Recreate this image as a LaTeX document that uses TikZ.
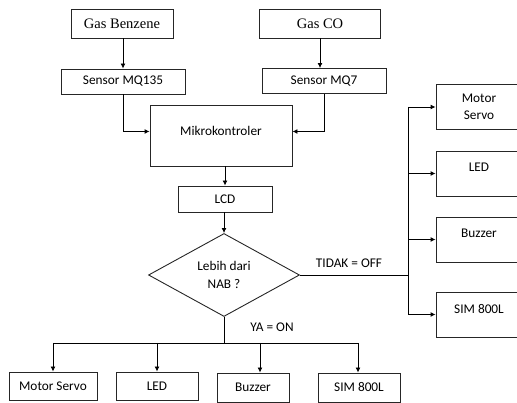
\documentclass[tikz,border=0pt]{standalone}
\usepackage{fontspec}
\setmainfont{Carlito}
\newfontfamily\gasfont{Liberation Serif}
\usetikzlibrary{arrows.meta,positioning,calc,shapes.geometric}

\begin{document}
\begin{tikzpicture}[
  x=1pt,y=-1pt,
  font=\fontsize{13.3}{17.5}\selectfont,
  line width=0.9pt,
  box/.style={draw=black!85,fill=white,align=center,inner sep=2pt},
  gasbox/.style={box,font=\gasfont\fontsize{14.5}{17}\selectfont,minimum height=29pt},
  sensbox/.style={box,minimum width=124pt,minimum height=25pt},
  outbox/.style={box,minimum height=28pt},
  sidebox/.style={box,minimum width=86pt,minimum height=45pt},
  raised/.style={text depth=12pt},
  decision/.style={draw=black!85,diamond,aspect=1.8,align=center,minimum width=151pt,minimum height=83pt,inner sep=1pt},
  flow/.style={-{Latex[length=5pt,width=5pt]}},
  lab/.style={inner sep=1pt}
]
\useasboundingbox (0,0) rectangle (517,403);
\node[gasbox,minimum width=102pt] (benz) at (122,23.5) {Gas Benzene};
\node[gasbox,minimum width=121pt] (co) at (320,23.5) {Gas CO};
\node[sensbox] (mq135) at (123,81.5) {Sensor MQ135};
\node[sensbox] (mq7) at (324,81) {Sensor MQ7};
\node[box,minimum width=142pt,minimum height=61pt,text depth=9pt] (mcu) at (221,135.5) {Mikrokontroler};
\node[box,minimum width=94pt,minimum height=26pt] (lcd) at (225,199) {LCD};
\node[decision] (dec) at (224,275) {Lebih dari\\NAB ?};
\draw[flow] (benz.south -| mq135.north) -- (mq135.north);
\draw[flow] (co.south) -- (co.south |- mq7.north);
\draw[flow] (mq135.south) |- ([yshift=4pt]mcu.west);
\draw[flow] (mq7.south) |- ([yshift=4pt]mcu.east);
\draw[flow] (mcu.south -| lcd.north) -- (lcd.north);
\draw[flow] (lcd.south -| dec.north) -- (dec.north);
% YA = ON branch along the bottom
\node[outbox,minimum width=88pt] (ms) at (53,386) {Motor Servo};
\node[outbox,minimum width=82pt] (led) at (157,386) {LED};
\node[outbox,minimum width=72pt,minimum height=29pt] (buz) at (253,387.5) {Buzzer};
\node[outbox,minimum width=82pt,minimum height=29pt] (sim) at (359,387.5) {SIM 800L};
\coordinate (yaL) at (53,343);
\coordinate (yaB) at (260,343);
\coordinate (yaR) at (358,343);
\draw (dec.south) -- (dec.south |- yaL);
\draw (yaL) -- (yaR);
\draw[flow] (yaL) -- (ms.north);
\draw[flow] (led.north |- yaL) -- (led.north);
\draw[flow] (yaB) -- (yaB |- buz.north);
\draw[flow] (yaR) -- (yaR |- sim.north);
\node[lab] (ya) at (272,327) {YA = ON};
% TIDAK = OFF branch on the right
\node[sidebox] (rms) at (479,107) {Motor\\Servo};
\node[sidebox,raised] (rled) at (479,173.5) {LED};
\node[sidebox,raised] (rbuz) at (479,239.5) {Buzzer};
\node[sidebox,raised] (rsim) at (479,314.5) {SIM 800L};
\coordinate (td) at (408,275);
\draw (dec.east) -- (td);
\draw (td |- rms.west) -- (td |- rsim.west);
\draw[flow] (td |- rms.west) -- (rms.west);
\draw[flow] (td |- rled.west) -- (rled.west);
\draw[flow] (td |- rbuz.west) -- (rbuz.west);
\draw[flow] (td |- rsim.west) -- (rsim.west);
\node[lab] (tidak) at (349,263) {TIDAK = OFF};
\end{tikzpicture}
\end{document}
